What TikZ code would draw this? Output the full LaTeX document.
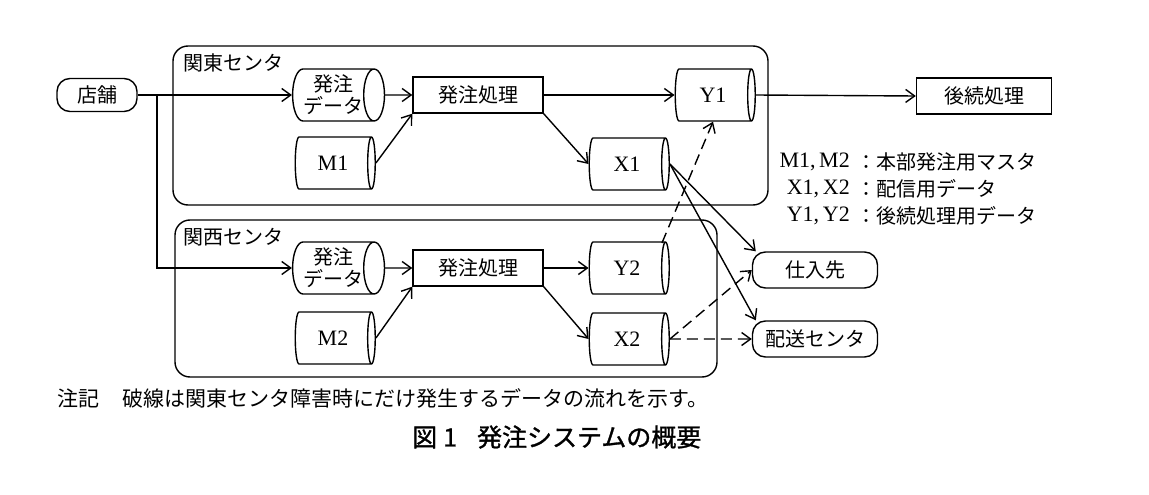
\documentclass[tikz,border=0pt]{standalone}
\usepackage{fontspec}
\newfontfamily\jp{Noto Sans CJK JP}
\newfontfamily\jpheavy{Noto Sans CJK JP}[FakeBold=1.2]
\newfontfamily\lat{Liberation Serif}
\usetikzlibrary{shapes.geometric,arrows.meta,calc}
\tikzset{
  flow/.style = {-{Straight Barb[length=9pt,width=13pt]}, line width=1.4pt},
  alt/.style = {flow, dash pattern=on 11pt off 6pt},
  store/.style = {cylinder, draw, line width=1.4pt, aspect=0.52,
    minimum width=52pt, minimum height=80pt, inner sep=0pt,
    font=\fontsize{20}{22}\selectfont\jp, align=center},
  proc/.style = {rectangle, draw, line width=1.4pt, minimum height=36pt,
    font=\fontsize{20}{22}\selectfont\jp},
  ext/.style = {proc, rounded corners=13pt},
  zone/.style = {draw, line width=1.4pt, rounded corners=15pt},
  txt/.style = {inner sep=0pt, font=\fontsize{20}{22}\selectfont\jp},
  key/.style = {inner sep=0pt, font=\fontsize{22}{24}\selectfont\lat}
}
\begin{document}
\begin{tikzpicture}[x=1pt,y=-1pt]
  \useasboundingbox (0,0) rectangle (1149,495);
  \draw[zone] (173,46) rectangle (768,205);
  \draw[zone] (175,220) rectangle (717,377);
  \node[txt, anchor=west] (kanto) at (183,63) {関東センタ};
  \node[txt, anchor=west] (kansai) at (183,237) {関西センタ};

  \node[ext, minimum width=80pt, minimum height=33pt] (shop) at (97,95) {店舗};
  \node[store] (kdata) at (333,95) {発注\\データ};
  \node[store] (kmst) at (333,163) {\fontsize{22}{24}\lat M1};
  \node[proc, minimum width=130pt] (kproc) at (478,95) {発注処理};
  \node[store] (ky) at (713,95) {\fontsize{22}{24}\lat Y1};
  \node[store] (kx) at (627,164) {\fontsize{22}{24}\lat X1};
  \node[proc, minimum width=135pt] (after) at (984,96) {後続処理};

  \node[store] (wdata) at (333,268) {発注\\データ};
  \node[store] (wmst) at (333,338) {\fontsize{22}{24}\lat M2};
  \node[proc, minimum width=130pt] (wproc) at (478,268) {発注処理};
  \node[store] (wy) at (627,268) {\fontsize{22}{24}\lat Y2};
  \node[store] (wx) at (627,339) {\fontsize{22}{24}\lat X2};
  \node[ext, minimum width=125pt] (supp) at (815,270) {仕入先};
  \node[ext, minimum width=125pt] (deliv) at (815,339) {配送センタ};

  \coordinate (split) at (157,95);
  \draw[flow] (shop.east) -- (kdata.west);
  \draw[flow] (split) |- (wdata.west);
  \draw[flow] (kdata.east) -- (kproc.west);
  \draw[flow] (kmst.east) -- (kproc.south west);
  \draw[flow] (kproc.east) -- (ky.west);
  \draw[flow] (kproc.south east) -- (kx.west);
  \draw[flow] (ky.east) -- (after.west);
  \draw[flow] (kx.east) -- ([xshift=4pt]supp.north west);
  \draw[flow] (kx.east) -- ([xshift=4pt]deliv.north west);
  \draw[flow] (wdata.east) -- (wproc.west);
  \draw[flow] (wmst.east) -- (wproc.south west);
  \draw[flow] (wproc.east) -- (wy.west);
  \draw[flow] (wproc.south east) -- (wx.west);
  \draw[alt] ($(wy.east)+(-8,-25)$) -- (ky.south);
  \draw[alt] (wx.east) -- (supp.west);
  \draw[alt] (wx.east) -- (deliv.west);

  \node[key, anchor=east] (keym) at (850,162) {M1,\,M2};
  \node[key, anchor=east] (keyx) at (850,189) {X1,\,X2};
  \node[key, anchor=east] (keyy) at (850,216) {Y1,\,Y2};
  \node[txt, anchor=west] (descm) at (856,162) {：本部発注用マスタ};
  \node[txt, anchor=west] (descx) at (856,189) {：配信用データ};
  \node[txt, anchor=west] (descy) at (856,216) {：後続処理用データ};

  \node[txt, anchor=west, font=\fontsize{21}{24}\selectfont\jp] (notehead) at (57,398) {注記};
  \node[txt, anchor=west, font=\fontsize{21}{24}\selectfont\jp] (note) at (122,398) {破線は関東センタ障害時にだけ発生するデータの流れを示す。};
  \node[txt, anchor=west, font=\fontsize{25}{28}\selectfont\jpheavy] (caption) at (412,437) {図\hspace{6pt}1\hspace{20pt}発注システムの概要};
\end{tikzpicture}
\end{document}
